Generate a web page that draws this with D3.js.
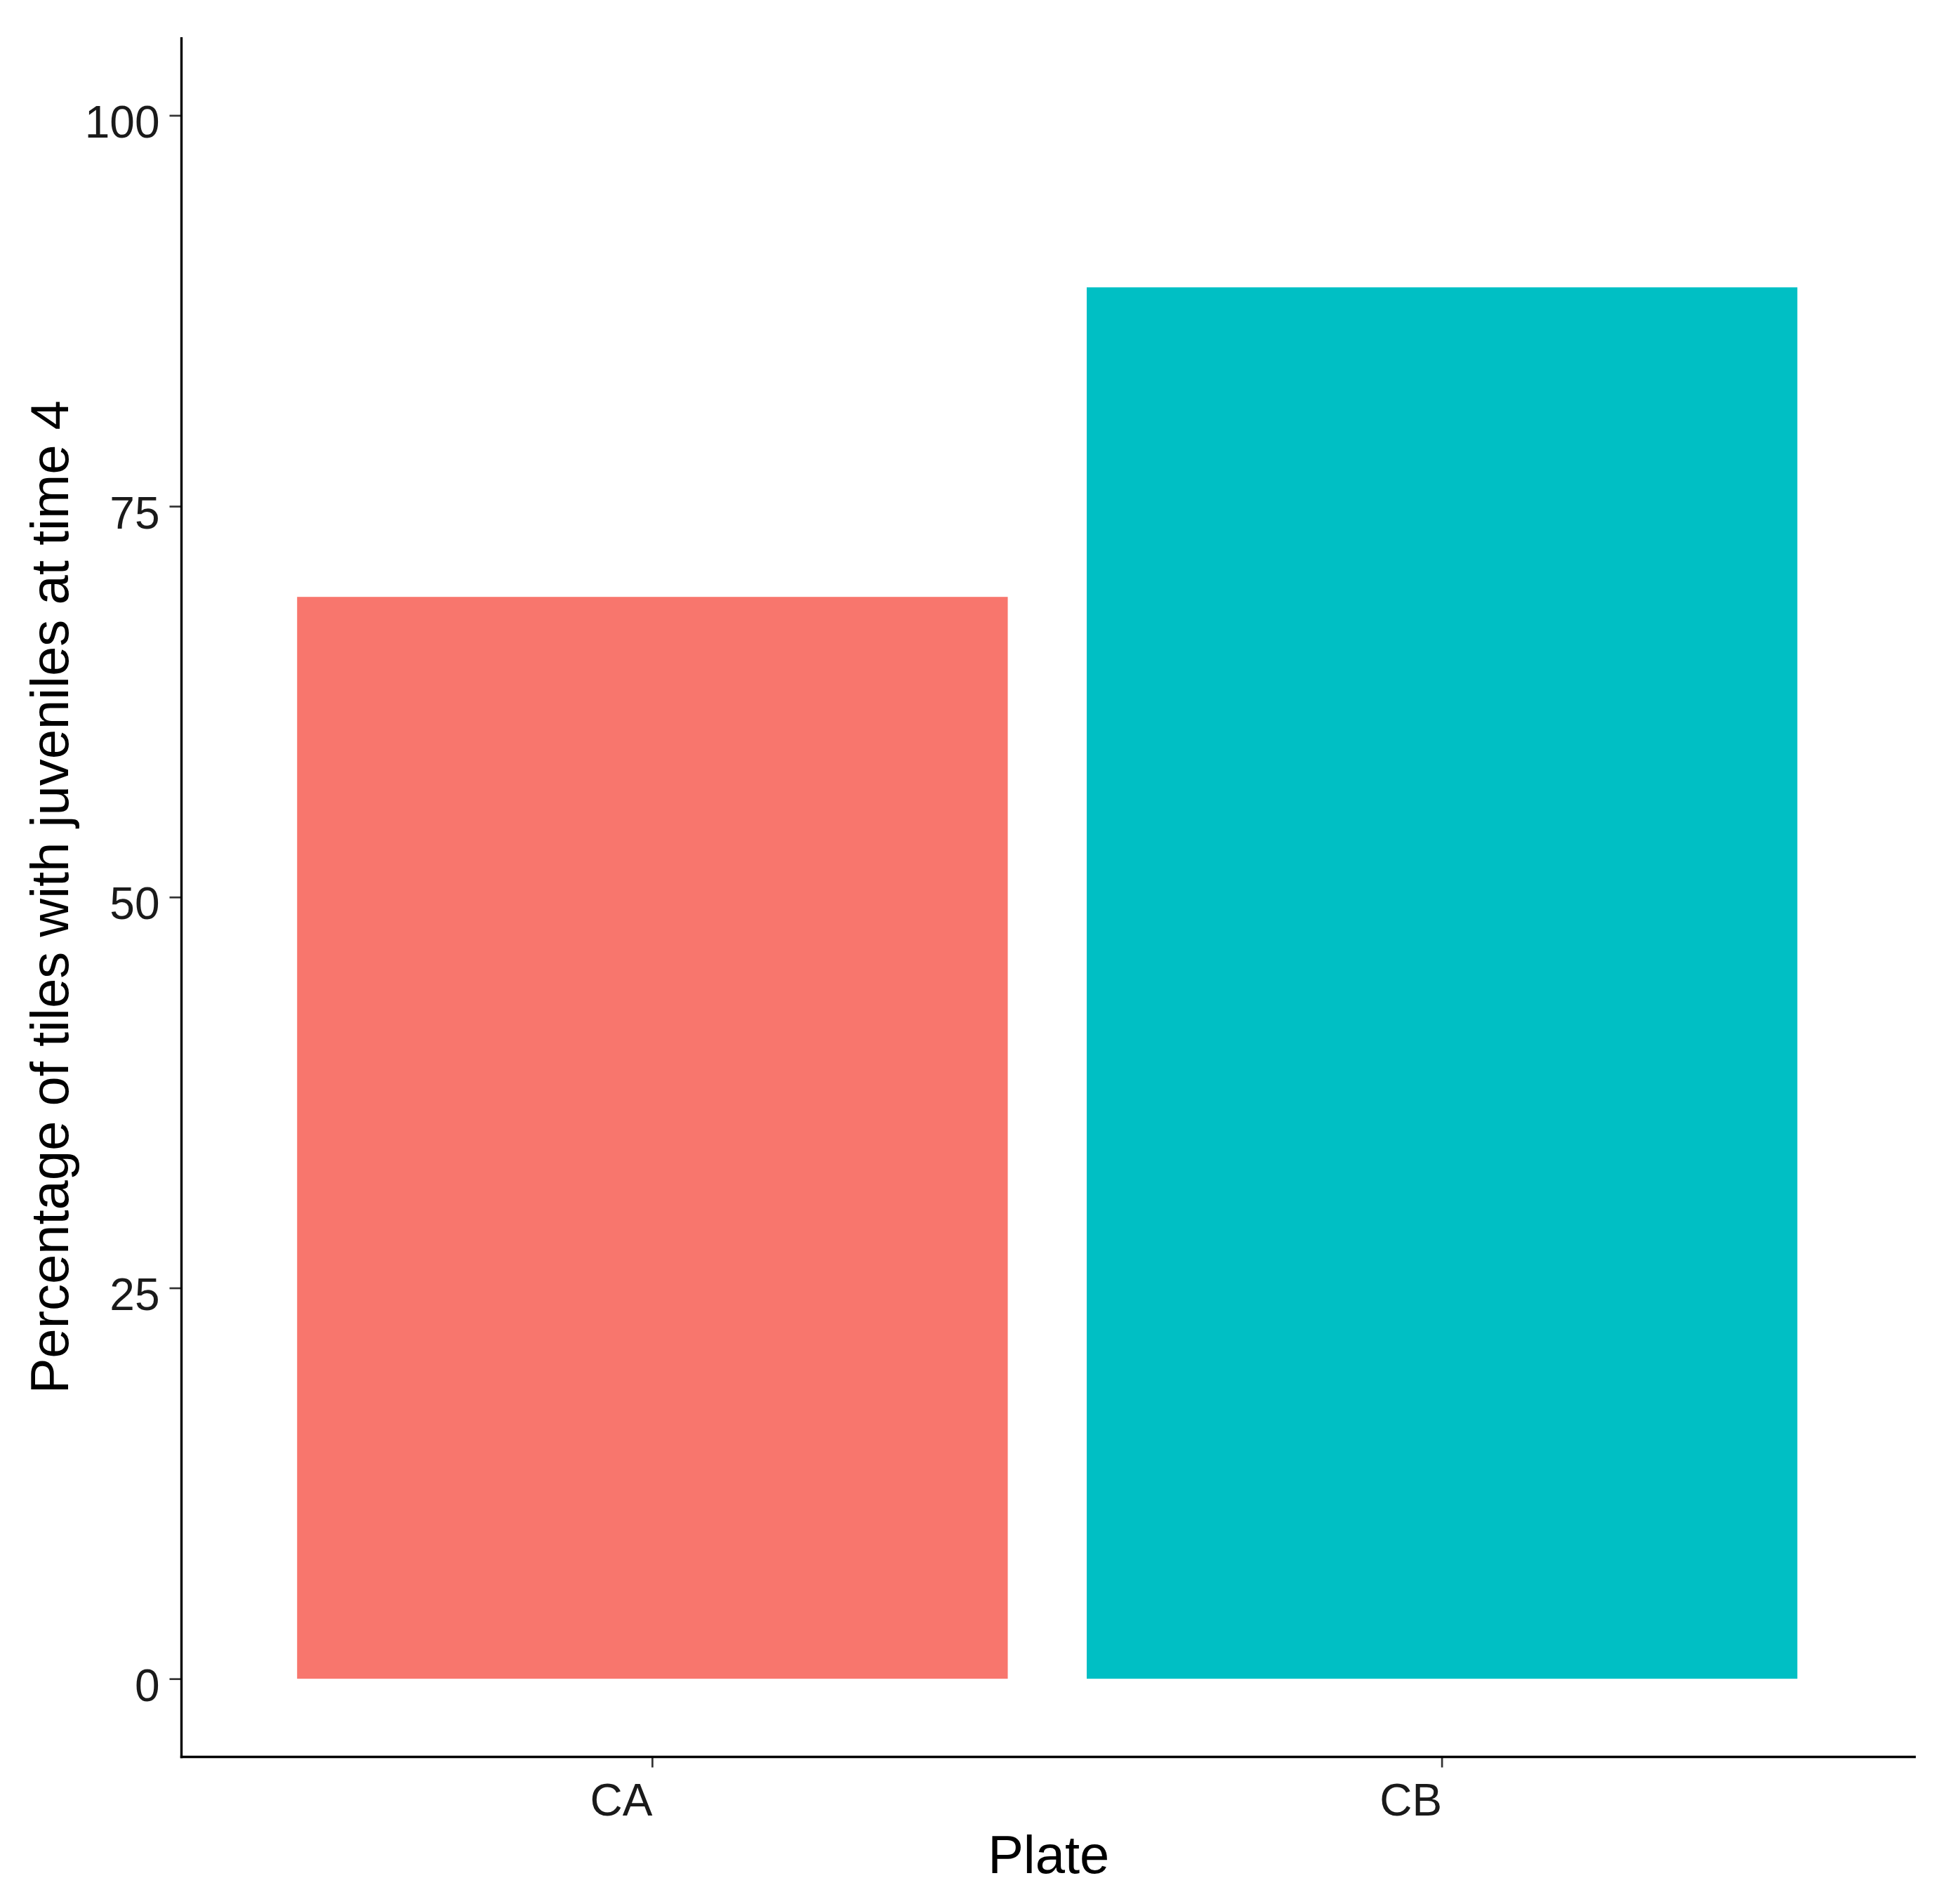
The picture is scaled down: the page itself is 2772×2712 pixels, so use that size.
<!DOCTYPE html>
<html>
<head>
<meta charset="utf-8">
<script src="https://cdn.jsdelivr.net/npm/d3@7"></script>
<style>
  body { margin: 0; background: #fff; }
  text { font-family: "Liberation Sans", Arial, sans-serif; }
</style>
</head>
<body>
<div id="chart"></div>
<script>
var plates = ['CA', 'CB'];
var percents = [69.2, 89.0];
var colors = ['#F8766D', '#00BFC4'];
var yTicks = [0, 25, 50, 75, 100];

var width = 2772,
    height = 2712;

// panel edges (don't use "top", it clashes with window.top)
var padLeft = 258.5,
    padRight = 2729,
    padTop = 53,
    padBottom = 2502.5;

var svg = d3.select('#chart').append('svg')
    .attr('width', width)
    .attr('height', height)
    .style('background', '#fff');

var x = d3.scaleBand()
    .domain(plates)
    .range([padLeft - 4, padRight])
    .paddingInner(0.1)
    .paddingOuter(0.15);

var y = d3.scaleLinear()
    .domain([-5, 105])
    .range([padBottom, padTop]);

// bars
svg.selectAll('.bar')
    .data(plates)
    .enter().append('rect')
    .attr('class', 'bar')
    .attr('x', function(d) { return x(d); })
    .attr('width', x.bandwidth())
    .attr('y', function(d, i) { return y(percents[i]); })
    .attr('height', function(d, i) { return y(0) - y(percents[i]); })
    .style('fill', function(d, i) { return colors[i]; });

// y axis
var yAxis = svg.append('g')
    .attr('transform', 'translate(' + padLeft + ',0)')
    .call(d3.axisLeft(y).tickValues(yTicks).tickSize(17).tickPadding(14));

// x axis
var xAxis = svg.append('g')
    .attr('transform', 'translate(0,' + padBottom + ')')
    .call(d3.axisBottom(x).tickSize(15).tickPadding(20));

[yAxis, xAxis].forEach(function(ax) {
  ax.select('.domain').remove();
  ax.selectAll('.tick line').attr('stroke', '#333').attr('stroke-width', 2.7);
  ax.selectAll('.tick text')
    .attr('fill', '#1a1a1a')
    .style('font-family', '"Liberation Sans", Arial, sans-serif')
    .style('font-size', '64px');
});

yAxis.selectAll('.tick text').attr('dy', null).attr('y', 31);
xAxis.selectAll('.tick text')
    .attr('dy', null)
    .attr('y', 83)
    .attr('x', 0)
    .attr('text-anchor', 'end');

// axis lines
svg.append('line')
    .attr('x1', padLeft).attr('x2', padLeft)
    .attr('y1', padTop).attr('y2', padBottom + 1.7)
    .attr('stroke', '#000').attr('stroke-width', 3.4);
svg.append('line')
    .attr('x1', padLeft - 1.7).attr('x2', padRight)
    .attr('y1', padBottom).attr('y2', padBottom)
    .attr('stroke', '#000').attr('stroke-width', 3.4);

// titles
svg.append('text')
    .attr('x', (padLeft + padRight) / 2)
    .attr('y', 2668)
    .attr('text-anchor', 'middle')
    .style('font-size', '76px')
    .attr('fill', '#000')
    .text('Plate');

svg.append('text')
    .attr('transform', 'translate(97,' + (padTop + padBottom) / 2 + ') rotate(-90)')
    .attr('text-anchor', 'middle')
    .style('font-size', '76px')
    .attr('fill', '#000')
    .text('Percentage of tiles with juveniles at time 4');
</script>
</body>
</html>
